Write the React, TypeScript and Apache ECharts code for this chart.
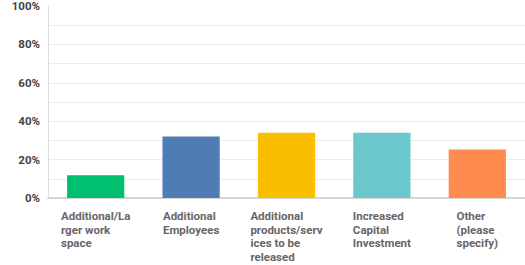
import React, { useEffect, useRef } from "react";
import * as echarts from "echarts";

const categories = [
  "Additional/La\nrger work\nspace",
  "Additional\nEmployees",
  "Additional\nproducts/serv\nices to be\nreleased",
  "Increased\nCapital\nInvestment",
  "Other\n(please\nspecify)",
];
const values = [11.9, 32.0, 34.0, 34.0, 25.3];
const colors = ["#00BF6F", "#507CB6", "#F9BE00", "#6BC8CD", "#FF8B4F"];
const yTicks = [0, 20, 40, 60, 80, 100];

export default function App() {
  const ref = useRef<HTMLDivElement>(null);
  useEffect(() => {
    if (!ref.current) return;
    const chart = echarts.init(ref.current, null, { renderer: "svg" });
    const gridColors = Array.from({ length: 11 }, (_, i) => (i === 10 ? "transparent" : "#ececec"));
    chart.setOption({
      animation: false,
      grid: { left: 48, top: 4, bottom: 67, right: -5 },
      xAxis: {
        type: "category",
        data: categories,
        axisTick: { show: false },
        axisLine: { lineStyle: { color: "#d6d6d6", width: 2 } },
        axisLabel: {
          margin: 11,
          interval: 0,
          fontFamily: "Roboto",
          fontWeight: 700,
          fontSize: 11.5,
          color: "#666",
          verticalAlign: "top",
          formatter: (v: string) => v.split("\n").map((l) => `{a|${l}}`).join("\n"),
          rich: {
            a: {
              align: "left",
              fontFamily: "Roboto",
              fontWeight: 700,
              fontSize: 11.5,
              lineHeight: 13.7,
              color: "#666",
            },
          },
        },
      },
      yAxis: {
        type: "value",
        min: 0,
        max: 100,
        interval: 10,
        axisLine: { show: true, lineStyle: { color: "#dcdcdc", width: 1 } },
        axisTick: { show: false },
        splitLine: { lineStyle: { color: gridColors, width: 1 } },
        axisLabel: {
          margin: 8,
          fontFamily: "Roboto",
          fontWeight: 700,
          fontSize: 11.5,
          color: "#444",
          padding: [11, 0, 0, 0],
          formatter: (v: number) => (yTicks.indexOf(v) >= 0 ? v + "%" : ""),
        },
      },
      series: [
        {
          type: "bar",
          data: values.map((v, i) => ({ value: v, itemStyle: { color: colors[i] } })),
          barCategoryGap: "40%",
        },
      ],
    });
    return () => chart.dispose();
  }, []);
  return (
    <div
      ref={ref}
      style={{ position: "fixed", left: 0, top: 0, width: 525, height: 265, background: "#fff" }}
    />
  );
}
